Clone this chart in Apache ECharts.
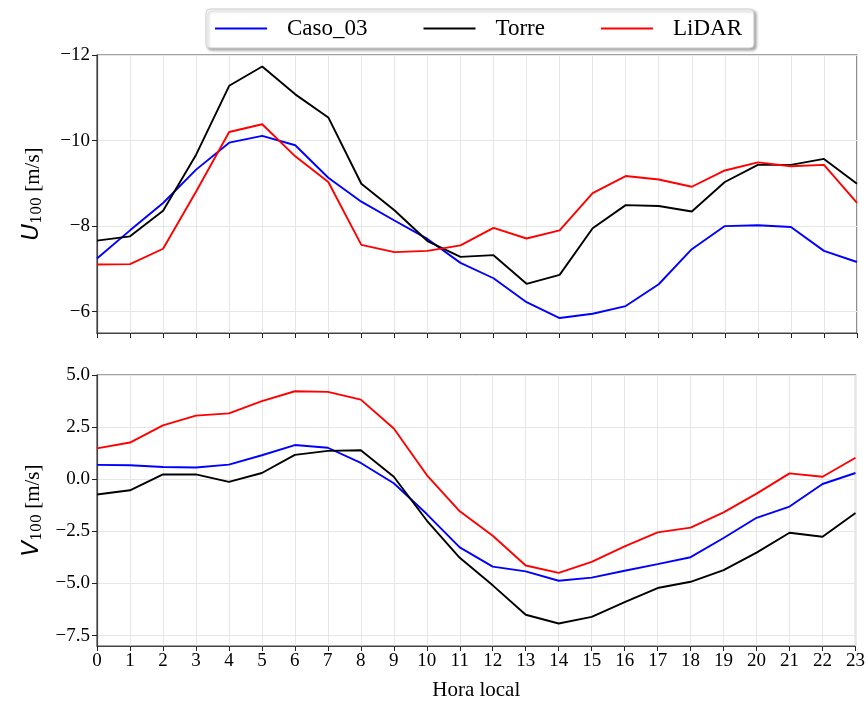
<!DOCTYPE html>
<html>
<head>
<meta charset="utf-8">
<title>U100 / V100</title>
<script src="https://cdn.jsdelivr.net/npm/echarts@6/dist/echarts.min.js"></script>
<style>
	html, body { margin: 0; padding: 0; background: #fff; }
	#main { width: 868px; height: 702px; }
</style>
</head>
<body>
<div id="main"></div>
<script>
// horas locales
var hours = [0, 1, 2, 3, 4, 5, 6, 7, 8, 9, 10, 11, 12, 13, 14, 15, 16, 17, 18, 19, 20, 21, 22, 23];

// U100 [m/s]
var uCaso  = [-7.24, -7.90, -8.54, -9.32, -9.95, -10.11, -9.89, -9.13, -8.57, -8.13, -7.70, -7.14, -6.78, -6.22, -5.85, -5.95, -6.13, -6.64, -7.46, -8.00, -8.02, -7.98, -7.42, -7.16];
var uTorre = [-7.66, -7.76, -8.36, -9.67, -11.28, -11.73, -11.08, -10.54, -8.99, -8.37, -7.65, -7.28, -7.32, -6.65, -6.86, -7.95, -8.49, -8.47, -8.34, -9.03, -9.43, -9.43, -9.57, -8.99];
var uLidar = [-7.10, -7.11, -7.47, -8.81, -10.20, -10.38, -9.63, -9.03, -7.56, -7.39, -7.42, -7.55, -7.96, -7.71, -7.90, -8.77, -9.17, -9.09, -8.92, -9.30, -9.49, -9.40, -9.43, -8.54];

// V100 [m/s]
var vCaso  = [0.69, 0.67, 0.59, 0.56, 0.70, 1.15, 1.64, 1.51, 0.78, -0.19, -1.67, -3.27, -4.19, -4.42, -4.87, -4.72, -4.39, -4.07, -3.74, -2.82, -1.85, -1.31, -0.23, 0.30];
var vTorre = [-0.73, -0.53, 0.23, 0.23, -0.13, 0.30, 1.17, 1.36, 1.39, 0.12, -1.98, -3.77, -5.09, -6.50, -6.92, -6.60, -5.90, -5.22, -4.92, -4.36, -3.52, -2.57, -2.76, -1.62];
var vLidar = [1.48, 1.76, 2.58, 3.05, 3.16, 3.75, 4.22, 4.19, 3.82, 2.43, 0.20, -1.54, -2.71, -4.14, -4.49, -3.96, -3.22, -2.55, -2.32, -1.59, -0.69, 0.28, 0.12, 1.03];

// ticks
var uTicks = [-12, -10, -8, -6];
var vTicks = [-7.5, -5.0, -2.5, 0.0, 2.5, 5.0];

var names  = ['Caso_03', 'Torre', 'LiDAR'];
var colors = ['#0000ff', '#000000', '#ff0000'];

var serif = '"Liberation Serif", "DejaVu Serif", serif';

function pairs(vals) {
	return hours.map(function (h, i) { return [h, vals[i]]; });
}
function minus(s) {
	return String(s).replace('-', '\u2212');
}

var myChart = echarts.init(document.getElementById('main'));

function xAxis(idx, withLabels) {
	return {
		type: 'value',
		gridIndex: idx,
		min: 0,
		max: 23,
		interval: 1,
		axisLine: { show: true, onZero: false, lineStyle: { color: '#444', width: 1.2 } },
		axisTick: { show: true, length: 5, lineStyle: { color: '#222' } },
		axisLabel: {
			show: withLabels,
			color: '#000',
			fontFamily: serif,
			fontSize: 19,
			margin: 6
		},
		splitLine: { show: true, lineStyle: { color: '#e6e6e6', width: 1 } },
		name: withLabels ? 'Hora local' : '',
		nameLocation: 'middle',
		nameGap: 34,
		nameTextStyle: { color: '#000', fontFamily: serif, fontSize: 21 }
	};
}

function yAxis(idx, letter, min, max, ticks, fmt, inverse) {
	return {
		type: 'value',
		gridIndex: idx,
		min: min,
		max: max,
		inverse: inverse,
		axisLine: { show: true, onZero: false, lineStyle: { color: '#444', width: 1.2 } },
		axisTick: { show: true, length: 5, customValues: ticks, lineStyle: { color: '#222' } },
		axisLabel: {
			customValues: ticks,
			color: '#000',
			fontFamily: serif,
			fontSize: 19,
			margin: 7,
			formatter: fmt
		},
		splitLine: { show: true, lineStyle: { color: '#e6e6e6', width: 1 } },
		name: '{it|' + letter + '}{sub|100}{n| [m/s]}',
		nameLocation: 'middle',
		nameRotate: 90,
		nameGap: 53,
		nameTextStyle: {
			rich: {
				it: { fontFamily: '"DejaVu Sans"', fontStyle: 'italic', fontSize: 23, color: '#000', lineHeight: 26, verticalAlign: 'bottom' },
				sub: { fontFamily: '"DejaVu Serif"', fontSize: 14, color: '#000', lineHeight: 14, verticalAlign: 'bottom' },
				n: { fontFamily: serif, fontSize: 21, color: '#000', lineHeight: 26, verticalAlign: 'bottom' }
			}
		}
	};
}

var series = [];
var uSets = [uCaso, uTorre, uLidar];
var vSets = [vCaso, vTorre, vLidar];
for (var i = 0; i < 3; i++) {
	series.push({
		name: names[i], type: 'line', xAxisIndex: 0, yAxisIndex: 0,
		data: pairs(uSets[i]), symbol: 'none', color: colors[i],
		lineStyle: { width: 1.9, color: colors[i] }, animation: false
	});
	series.push({
		name: names[i], type: 'line', xAxisIndex: 1, yAxisIndex: 1,
		data: pairs(vSets[i]), symbol: 'none', color: colors[i],
		lineStyle: { width: 1.9, color: colors[i] }, animation: false
	});
}

var option = {
	backgroundColor: '#fff',
	animation: false,
	legend: {
		data: names,
		left: 206,
		top: 9,
		padding: [8, 12, 8, 9],
		itemGap: 56,
		itemWidth: 52,
		itemHeight: 2,
		icon: 'rect',
		backgroundColor: '#fff',
		borderColor: '#cfcfcf',
		borderWidth: 1,
		borderRadius: 4,
		shadowColor: 'rgba(0,0,0,0.35)',
		shadowBlur: 3,
		shadowOffsetX: 2,
		shadowOffsetY: 2,
		textStyle: { color: '#000', fontFamily: serif, fontSize: 23, padding: [0, 0, 0, 15] }
	},
	grid: [
		{ left: 97, top: 55, width: 760, height: 278, show: true, borderColor: '#444', borderWidth: 1.2, backgroundColor: 'transparent' },
		{ left: 97, top: 375, width: 760, height: 277, show: true, borderColor: '#444', borderWidth: 1.2, backgroundColor: 'transparent' }
	],
	xAxis: [xAxis(0, false), xAxis(1, true)],
	yAxis: [
		yAxis(0, 'U', -12, -5.5, uTicks, function (v) { return minus(v); }, true),
		yAxis(1, 'V', -8, 5, vTicks, function (v) { return minus(v.toFixed(1)); }, false)
	],
	series: series
};

myChart.setOption(option);
</script>
</body>
</html>
